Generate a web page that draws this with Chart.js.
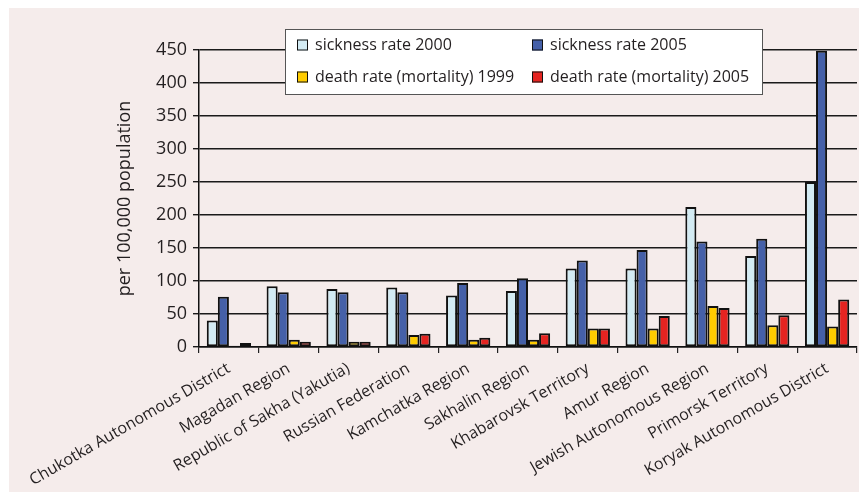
<!DOCTYPE html>
<html>
<head>
<meta charset="utf-8">
<script src="https://cdn.jsdelivr.net/npm/chart.js@4"></script>
<style>
  html, body { margin: 0; padding: 0; background: #fff; }
  #wrap { width: 859px; height: 493px; }
</style>
</head>
<body>
<div id="wrap"><canvas id="myChart"></canvas></div>
<script>
// regions on the x axis
const regions = [
    'Chukotka Autonomous District', 'Magadan Region', 'Republic of Sakha (Yakutia)',
    'Russian Federation', 'Kamchatka Region', 'Sakhalin Region', 'Khabarovsk Territory',
    'Amur Region', 'Jewish Autonomous Region', 'Primorsk Territory', 'Koryak Autonomous District'
];
const sickness2000 = [40, 92, 88, 90, 78, 85, 119, 119, 212, 138, 250];
const sickness2005 = [76, 83, 83, 83, 97, 104, 131, 147, 160, 164, 449];
const death1999 = [2, 11, 8, 18, 11, 11, 28, 28, 62, 33, 31];
const death2005 = [6, 8, 8, 20, 14, 21, 28, 47, 59, 48, 72];
const yTicks = [0, 50, 100, 150, 200, 250, 300, 350, 400, 450];

const FONT = '"Open Sans", "Noto Sans", sans-serif';
const INK = '#231f20';

// pink panel behind the chart
const panelPlugin = {
    id: 'panel',
    beforeDraw(chart) {
        const c = chart.ctx;
        c.save();
        c.fillStyle = '#ffffff';
        c.fillRect(0, 0, chart.width, chart.height);
        c.fillStyle = '#f5eceb';
        c.fillRect(9, 8, chart.width - 9, chart.height - 9);
        c.restore();
    }
};

// boxed 2x2 legend drawn over the plot
const boxLegend = {
    id: 'boxLegend',
    afterDraw(chart) {
        const c = chart.ctx;
        const ds = chart.data.datasets;
        c.save();
        c.fillStyle = '#ffffff';
        c.strokeStyle = '#555';
        c.lineWidth = 1;
        c.fillRect(285, 29, 477, 65);
        c.strokeRect(285.5, 29.5, 477, 65);
        c.font = '16px ' + FONT;
        c.textBaseline = 'middle';
        const cols = [297, 532];
        const rows = [45, 77];
        ds.forEach((d, i) => {
            const x = cols[i % 2];
            const y = rows[Math.floor(i / 2)];
            c.fillStyle = d.backgroundColor;
            c.fillRect(x, y - 5.5, 11, 11);
            c.strokeStyle = '#111';
            c.strokeRect(x + 0.5, y - 5, 10, 10);
            c.fillStyle = INK;
            c.fillText(d.label, x + 18, y);
        });
        c.restore();
    }
};

const ctx = document.getElementById('myChart').getContext('2d');
new Chart(ctx, {
    type: 'bar',
    data: {
        labels: regions,
        datasets: [
            { label: 'sickness rate 2000', data: sickness2000, backgroundColor: '#d3ebf3' },
            { label: 'sickness rate 2005', data: sickness2005, backgroundColor: '#4560a8' },
            { label: 'death rate (mortality) 1999', data: death1999, backgroundColor: '#ffcc00' },
            { label: 'death rate (mortality) 2005', data: death2005, backgroundColor: '#e52421' }
        ]
    },
    options: {
        responsive: true,
        maintainAspectRatio: false,
        animation: false,
        datasets: {
            bar: {
                borderColor: '#111',
                borderWidth: 2,
                borderSkipped: false,
                barPercentage: 1,
                categoryPercentage: 0.74
            }
        },
        layout: { padding: { left: 110, top: 50, right: 2, bottom: 0 } },
        plugins: {
            legend: { display: false },
            tooltip: { enabled: false }
        },
        scales: {
            x: {
                afterFit(s) { s.height = 146; },
                grid: { offset: true, drawOnChartArea: false, tickLength: 6, color: '#222', lineWidth: 1.2 },
                border: { color: '#111', width: 1.5 },
                ticks: {
                    autoSkip: false,
                    minRotation: 30,
                    maxRotation: 30,
                    padding: 6,
                    color: INK,
                    font: { family: FONT, size: 16 }
                }
            },
            y: {
                min: 0,
                max: 450,
                afterFit(s) { s.width = 89; },
                afterBuildTicks(s) { s.ticks = yTicks.map(v => ({ value: v })); },
                grid: { color: '#1a1a1a', lineWidth: 1.4, tickLength: 6 },
                border: { color: '#111', width: 1.5 },
                ticks: {
                    padding: 6,
                    color: INK,
                    font: { family: FONT, size: 18 }
                },
                title: {
                    display: true,
                    text: 'per 100,000 population',
                    color: INK,
                    font: { family: FONT, size: 18 }
                }
            }
        }
    },
    plugins: [panelPlugin, boxLegend]
});
</script>
</body>
</html>
